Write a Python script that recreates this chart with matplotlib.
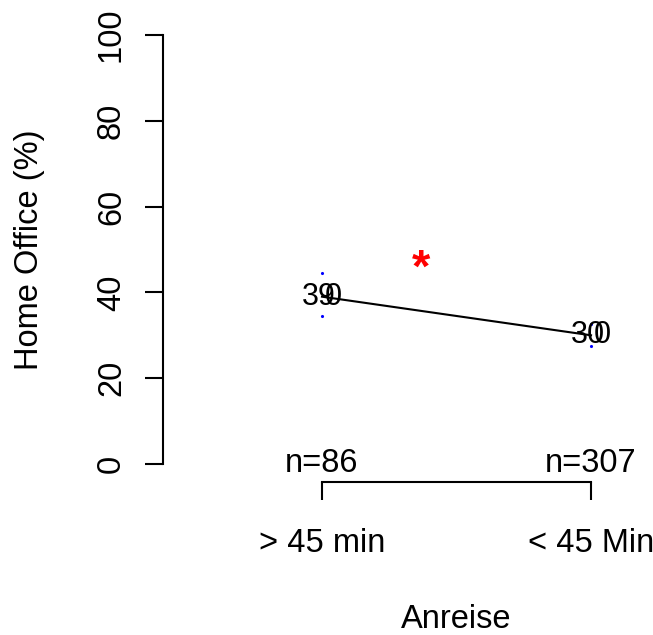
import matplotlib
matplotlib.use("Agg")
import matplotlib.pyplot as plt

plt.rcParams['font.family'] = ['Liberation Sans', 'DejaVu Sans']

# Daten
gruppen = ["> 45 min", "< 45 Min"]
anteil = [39, 30]
ci_unten = [34.5, 27.5]
ci_oben = [44.5, 32.6]
n_werte = [86, 307]
stern_pos = (1.37, 45.2)

fig = plt.figure(figsize=(6.53, 6.35), dpi=100)
ax = fig.add_axes([163/653, 153/635, (640-163)/653, (600-153)/635])
x = [1, 2]

ax.plot(x, anteil, color='black', lw=1.5, zorder=2)
for i in range(len(x)):
    ax.plot([x[i], x[i]], [ci_unten[i], ci_oben[i]], ls='none', marker='.',
            ms=2.5, color='blue', zorder=1)
    ax.annotate(str(anteil[i]), (x[i], anteil[i]), xytext=(-3, 0), textcoords='offset pixels',
                ha='center', va='center', fontsize=22, zorder=3)
    ax.annotate('0', (x[i], anteil[i]), xytext=(11, 0), textcoords='offset pixels',
                ha='center', va='center', fontsize=22, zorder=3)
    ax.text(x[i], 0, "n=" + str(n_werte[i]), ha='center', va='center', fontsize=23.5)

ax.text(stern_pos[0], stern_pos[1], '*', color='red', fontsize=34, fontweight='bold',
        ha='center', va='center')

ax.set_xlim(0.409, 2.182)
ax.set_ylim(-4.2, 100)
ax.spines['top'].set_visible(False)
ax.spines['right'].set_visible(False)
ax.spines['left'].set_bounds(0, 100)
ax.spines['bottom'].set_bounds(1, 2)
ax.spines['left'].set_linewidth(1.5)
ax.spines['bottom'].set_linewidth(1.5)

ax.set_yticks([0, 20, 40, 60, 80, 100])
ax.set_yticklabels(['0', '20', '40', '60', '80', '100'], rotation=90, va='center')
ax.set_xticks(x)
ax.set_xticklabels(gruppen)
ax.tick_params(axis='y', length=13, width=1.5, pad=13, labelsize=23.5)
ax.tick_params(axis='x', length=13, width=1.5, pad=20, labelsize=23.5)

fig.text(30/653, 1 - 250/635, "Home Office (%)", rotation=90, ha='center', va='center', fontsize=23.5)
fig.text(456/653, 1 - 620/635, "Anreise", ha='center', va='center', fontsize=23.5)

fig.savefig("out.png", dpi=100)
